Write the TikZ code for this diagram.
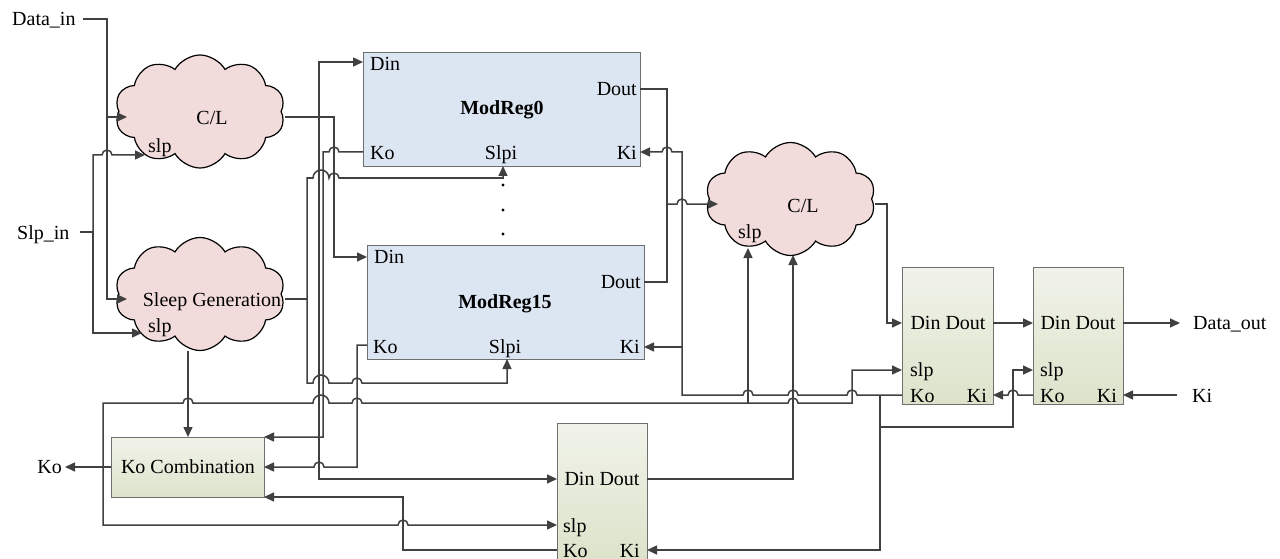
\documentclass[tikz,border=0pt]{standalone}
\usepackage{fontspec}
\setmainfont{Liberation Serif}
\usetikzlibrary{arrows.meta,shapes.symbols}
\definecolor{wirec}{HTML}{404040}
\definecolor{cloudfill}{HTML}{F2DCDB}
\definecolor{regblue}{HTML}{DCE6F2}
\definecolor{regborder}{HTML}{6F6F6F}
\definecolor{gtop}{HTML}{F1F3EA}
\definecolor{gbot}{HTML}{DCE3CA}
\begin{document}
\begin{tikzpicture}[x=1pt,y=-1pt,
  wire/.style={draw=wirec,line width=1.5pt},
  arr/.style={wire,-{Triangle[length=10pt,width=9pt]}},
  lbl/.style={font=\fontsize{20}{24}\selectfont,inner sep=0pt,text=black},
  cl/.style={cloud,cloud puffs=10,cloud puff arc=120,cloud ignores aspect,draw=black,line width=1.2pt,fill=cloudfill,minimum width=170pt,minimum height=113pt,inner sep=0pt},
  mreg/.style={draw=regborder,line width=1.3pt,fill=regblue,anchor=north west,inner sep=0pt},
  greg/.style={draw=regborder,line width=1.3pt,top color=gtop,bottom color=gbot,anchor=north west,inner sep=0pt},
]
\useasboundingbox (0,0) rectangle (1280,559);

% ---- shapes ----
\node[cl] (cl1) at (200,111.5) {};
\node[cl] (sg) at (200,294) {};
\node[cl] (cl2) at (790.5,199) {};
\node[mreg,minimum width=277pt,minimum height=114pt] (m0) at (363,52) {};
\node[mreg,minimum width=277pt,minimum height=114pt] (m15) at (367,245) {};
\node[greg,minimum width=91pt,minimum height=137pt] (r1) at (902,267) {};
\node[greg,minimum width=90pt,minimum height=137pt] (r2) at (1033,267) {};
\node[greg,minimum width=90pt,minimum height=136pt] (rb) at (557,423) {};
\node[greg,minimum width=153pt,minimum height=60pt] (kc) at (111,437) {};

% ---- labels ----
\node[lbl,anchor=base west] (tdin) at (12,26) {Data\_in};
\node[lbl,anchor=base west] (tslpin) at (17,239) {Slp\_in};
\node[lbl,anchor=base] (tcl1) at (212,125) {C/L};
\node[lbl,anchor=base west] (tcl1s) at (148,153) {slp};
\node[lbl,anchor=base] (tsg) at (212,306) {Sleep Generation};
\node[lbl,anchor=base west] (tsgs) at (148,332) {slp};
\node[lbl,anchor=base,font=\fontsize{20}{24}\selectfont\bfseries] (tm0) at (502,115) {ModReg0};
\node[lbl,anchor=base west] (tm0din) at (370,71) {Din};
\node[lbl,anchor=base east] (tm0dout) at (637,96) {Dout};
\node[lbl,anchor=base west] (tm0ko) at (370,160) {Ko};
\node[lbl,anchor=base] (tm0slpi) at (501,160) {Slpi};
\node[lbl,anchor=base east] (tm0ki) at (637,160) {Ki};
\node[lbl,anchor=base,font=\fontsize{20}{24}\selectfont\bfseries] (tm15) at (505,308) {ModReg15};
\node[lbl,anchor=base west] (tm15din) at (374,263) {Din};
\node[lbl,anchor=base east] (tm15dout) at (641,288) {Dout};
\node[lbl,anchor=base west] (tm15ko) at (373,353) {Ko};
\node[lbl,anchor=base] (tm15slpi) at (505,353) {Slpi};
\node[lbl,anchor=base east] (tm15ki) at (640,353) {Ki};
\node[lbl,anchor=base] (tcl2) at (803,212) {C/L};
\node[lbl,anchor=base west] (tcl2s) at (738,238) {slp};
\node[lbl,anchor=base] (tr1) at (948,329) {Din Dout};
\node[lbl,anchor=base west] (tr1s) at (910,376) {slp};
\node[lbl,anchor=base west] (tr1ko) at (910,402) {Ko};
\node[lbl,anchor=base east] (tr1ki) at (987,402) {Ki};
\node[lbl,anchor=base] (tr2) at (1078,329) {Din Dout};
\node[lbl,anchor=base west] (tr2s) at (1040,376) {slp};
\node[lbl,anchor=base west] (tr2ko) at (1040,402) {Ko};
\node[lbl,anchor=base east] (tr2ki) at (1117,402) {Ki};
\node[lbl,anchor=base west] (tdout) at (1193,329) {Data\_out};
\node[lbl,anchor=base west] (tki) at (1192,402) {Ki};
\node[lbl,anchor=base] (trb) at (602,485) {Din Dout};
\node[lbl,anchor=base west] (trbs) at (563,532) {slp};
\node[lbl,anchor=base west] (trbko) at (563,557) {Ko};
\node[lbl,anchor=base east] (trbki) at (640,557) {Ki};
\node[lbl,anchor=base] (tkc) at (188,473) {Ko Combination};
\node[lbl,anchor=base east] (tko) at (62,473) {Ko};
\foreach \yy in {185,210,234} \fill (503,\yy) circle (1.6pt);

% ---- ports ----
\coordinate (pDin) at (83,19);
\coordinate (pSlpin) at (80,232);
\coordinate (c1in) at (127,117);
\coordinate (c1slp) at (145,155);
\coordinate (c1out) at (285,117);
\coordinate (sgin) at (127,299);
\coordinate (sgslp) at (142,333);
\coordinate (sgout) at (285,299);
\coordinate (sgbot) at (188,351);
\coordinate (m0din) at (363,62);
\coordinate (m0dout) at (640,89);
\coordinate (m0ko) at (363,152);
\coordinate (m0slpi) at (503,166);
\coordinate (m0ki) at (640,152);
\coordinate (m15din) at (367,257);
\coordinate (m15dout) at (644,282);
\coordinate (m15ko) at (367,345);
\coordinate (m15slpi) at (507,359);
\coordinate (m15ki) at (644,347);
\coordinate (c2in) at (718,204);
\coordinate (c2slp) at (748,248);
\coordinate (c2in2) at (793,255);
\coordinate (c2out) at (875,204);
\coordinate (r1din) at (902,323);
\coordinate (r1dout) at (993,323);
\coordinate (r1slp) at (902,370);
\coordinate (r1ko) at (902,395);
\coordinate (r1ki) at (993,395);
\coordinate (r2din) at (1033,323);
\coordinate (r2dout) at (1123,323);
\coordinate (r2slp) at (1033,370);
\coordinate (r2ko) at (1033,395);
\coordinate (r2ki) at (1123,395);
\coordinate (pDout) at (1180,323);
\coordinate (pKi) at (1177,395);
\coordinate (bdin) at (557,479);
\coordinate (bdout) at (647,479);
\coordinate (bslp) at (557,525);
\coordinate (bko) at (557,550);
\coordinate (bki) at (647,550);
\coordinate (kc1) at (264,437);
\coordinate (kc2) at (264,467);
\coordinate (kc3) at (264,497);
\coordinate (kctop) at (188,437);
\coordinate (kcout) at (111,467);
\coordinate (pKo) at (65,467);

% ---- wires ----
% Data_in
\draw[wire] (pDin) -- (107,19) -- (107,117);
\draw[arr] (107,117) -- (c1in);
\draw[arr] (107,117) -- (107,299) -- (sgin);
% Slp_in
\draw[wire] (pSlpin) -- (93,232);
\draw[arr] (93,232) -- (93,155) -- (102,155) arc[start angle=180,end angle=0,radius=5pt] -- (c1slp);
\draw[arr] (93,232) -- (93,333) -- (sgslp);
% C/L output to registers
\draw[arr] (c1out) -- (334,117) -- (334,257) -- (m15din);
\draw[arr] (319,117) -- (319,62) -- (m0din);
\draw[arr] (319,117) -- (319,479) -- (bdin);
% ModReg0 Ko
\draw[arr] (m0ko) -- (339,152) arc[start angle=0,end angle=180,radius=5pt] -- (323,152) -- (323,437) -- (kc1);
% Sleep generation outputs
\draw[wire] (sgout) -- (307,299);
\draw[arr] (307,299) -- (307,178) -- (313,178) arc[start angle=180,end angle=0,radius=8pt] -- (329,178) arc[start angle=180,end angle=0,radius=5pt] -- (503,178) -- (m0slpi);
\draw[arr] (307,299) -- (307,383) -- (313,383) arc[start angle=180,end angle=0,radius=8pt] -- (352,383) arc[start angle=180,end angle=0,radius=5pt] -- (507,383) -- (m15slpi);
\draw[arr] (sgbot) -- (kctop);
% Ko combination output and sleep bus
\draw[arr] (kcout) -- (pKo);
\draw[arr] (103,467) -- (103,403) -- (183,403) arc[start angle=180,end angle=0,radius=5pt] -- (313,403) arc[start angle=180,end angle=0,radius=8pt] -- (352,403) arc[start angle=180,end angle=0,radius=5pt] -- (788,403) arc[start angle=180,end angle=0,radius=5pt] -- (852,403) -- (852,370) -- (r1slp);
\draw[arr] (748,403) -- (c2slp);
\draw[arr] (103,467) -- (103,525) -- (398,525) arc[start angle=180,end angle=0,radius=5pt] -- (bslp);
% ModReg15 Ko
\draw[arr] (m15ko) -- (357,345) -- (357,467) -- (324,467) arc[start angle=0,end angle=180,radius=5pt] -- (kc2);
% bottom register Ko
\draw[arr] (bko) -- (403,550) -- (403,497) -- (kc3);
% Dout merge
\draw[wire] (m0dout) -- (667,89) -- (667,204);
\draw[wire] (m15dout) -- (667,282) -- (667,204);
\draw[arr] (667,204) -- (677,204) arc[start angle=180,end angle=0,radius=5pt] -- (c2in);
% reg1 Ko
\draw[arr] (r1ko) -- (880,395) -- (857,395) arc[start angle=0,end angle=180,radius=5pt] -- (798,395) arc[start angle=0,end angle=180,radius=5pt] -- (753,395) arc[start angle=0,end angle=180,radius=5pt] -- (682,395) -- (682,152) -- (672,152) arc[start angle=0,end angle=180,radius=5pt] -- (m0ki);
\draw[arr] (682,347) -- (m15ki);
\draw[arr] (880,395) -- (880,550) -- (bki);
\draw[arr] (880,427) -- (1013,427) -- (1013,370) -- (r2slp);
% reg2 Ko and Ki
\draw[arr] (r2ko) -- (1018,395) arc[start angle=0,end angle=180,radius=5pt] -- (r1ki);
\draw[arr] (pKi) -- (r2ki);
% data path
\draw[arr] (r1dout) -- (r2din);
\draw[arr] (r2dout) -- (pDout);
\draw[arr] (c2out) -- (887,204) -- (887,323) -- (r1din);
\draw[arr] (bdout) -- (793,479) -- (c2in2);
\end{tikzpicture}
\end{document}
